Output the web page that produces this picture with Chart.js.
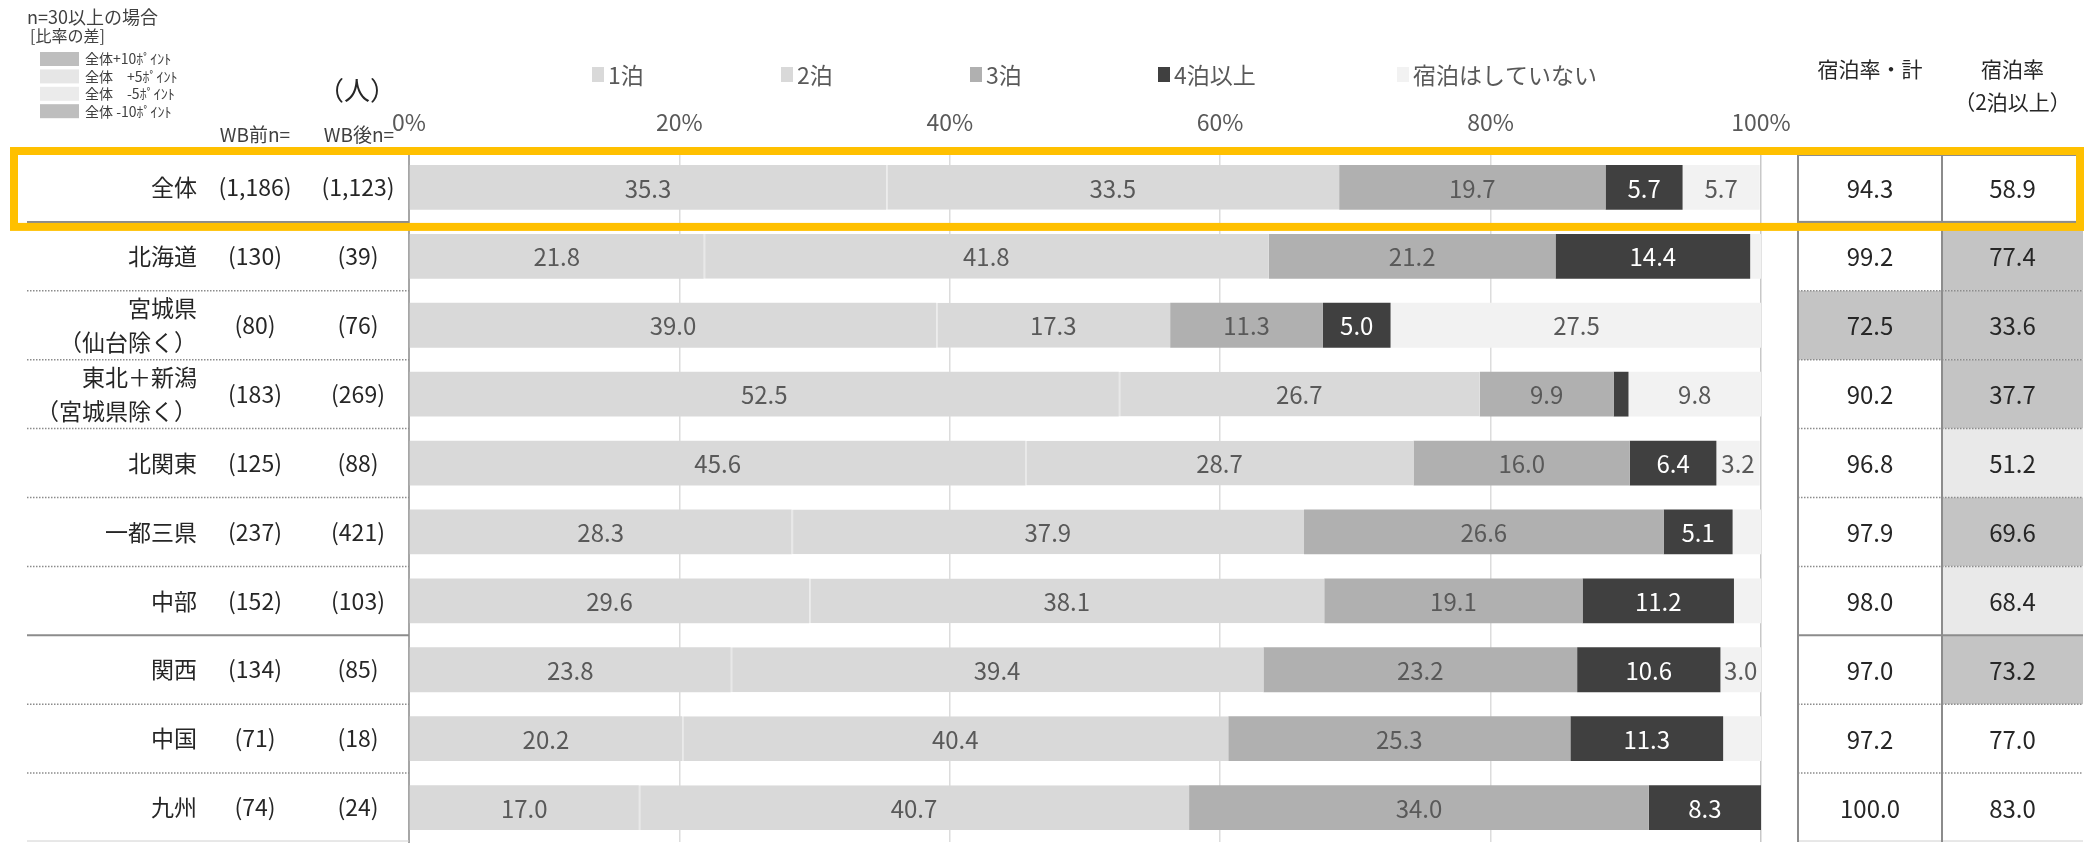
<!DOCTYPE html>
<html lang="ja">
<head>
<meta charset="utf-8">
<title>宿泊数（地域別）</title>
<script src="https://cdn.jsdelivr.net/npm/chart.js@4.4.1/dist/chart.umd.min.js"></script>
<style>
  html, body { margin: 0; padding: 0; background: #fff; }
</style>
</head>
<body>
<canvas id="stayChart" width="2086" height="844"></canvas>
<script>
// Regions and sample sizes
const regions = ['全体', '北海道', ['宮城県', '（仙台除く）'], ['東北＋新潟', '（宮城県除く）'], '北関東', '一都三県', '中部', '関西', '中国', '九州'];
const nBefore = [1186, 130, 80, 183, 125, 237, 152, 134, 71, 74];
const nAfter = [1123, 39, 76, 269, 88, 421, 103, 85, 18, 24];

// Share of nights stayed (%)
const seriesNames = ['1泊', '2泊', '3泊', '4泊以上', '宿泊はしていない'];
const oneNight = [35.3, 21.8, 39.0, 52.5, 45.6, 28.3, 29.6, 23.8, 20.2, 17.0];
const twoNights = [33.5, 41.8, 17.3, 26.7, 28.7, 37.9, 38.1, 39.4, 40.4, 40.7];
const threeNights = [19.7, 21.2, 11.3, 9.9, 16.0, 26.6, 19.1, 23.2, 25.3, 34.0];
const fourPlus = [5.7, 14.4, 5.0, 1.1, 6.4, 5.1, 11.2, 10.6, 11.3, 8.3];
const noStay = [5.7, 0.8, 27.5, 9.8, 3.2, 2.1, 2.0, 3.0, 2.8, 0.0];

// Summary columns on the right
const stayTotal = [94.3, 99.2, 72.5, 90.2, 96.8, 97.9, 98.0, 97.0, 97.2, 100.0];
const stayTwoPlus = [58.9, 77.4, 33.6, 37.7, 51.2, 69.6, 68.4, 73.2, 77.0, 83.0];

const tickLabels = ['0%', '20%', '40%', '60%', '80%', '100%'];

const FONT = '"Noto Sans CJK JP", "Noto Sans", sans-serif';
const font = size => size + 'px ' + FONT;

const barColors = ['#d9d9d9', '#d9d9d9', '#b0b0b0', '#404040', '#f2f2f2'];
const labelColors = ['#595959', '#595959', '#595959', '#ffffff', '#595959'];

// highlight when n>=30 and the gap to 全体 is 5pt / 10pt or more
function shadeFor(values, i) {
  if (i === 0 || nAfter[i] < 30) return null;
  const d = Math.abs(values[i] - values[0]);
  if (d >= 10) return '#c4c4c4';
  if (d >= 5) return '#e9e9e9';
  return null;
}

function hLine(ctx, x1, x2, y, color, width, dash) {
  ctx.save();
  ctx.strokeStyle = color;
  ctx.lineWidth = width;
  ctx.setLineDash(dash || []);
  ctx.beginPath();
  ctx.moveTo(x1, y);
  ctx.lineTo(x2, y);
  ctx.stroke();
  ctx.restore();
}

function text(ctx, str, x, y, size, color, align) {
  ctx.font = font(size);
  ctx.fillStyle = color;
  ctx.textAlign = align || 'center';
  ctx.textBaseline = 'middle';
  ctx.fillText(str, x, y);
}

const tablePlugin = {
  id: 'tablePlugin',
  afterDatasetsDraw(chart) {
    const ctx = chart.ctx;
    // values inside the bar segments
    chart.data.datasets.forEach((ds, di) => {
      const meta = chart.getDatasetMeta(di);
      meta.data.forEach((bar, j) => {
        const v = ds.data[j];
        if (v < 3) return;
        text(ctx, v.toFixed(1), (bar.x + bar.base) / 2, bar.y + 1, 24, labelColors[di]);
      });
    });
  },
  afterDraw(chart) {
    const ctx = chart.ctx;
    const y = chart.scales.y;
    const rowY = i => y.getPixelForValue(i);
    const edge = k => k === 0 ? y.top : (k === regions.length ? y.bottom : (rowY(k - 1) + rowY(k)) / 2);
    const left = 27, axisX = chart.chartArea.left;
    const c1 = 1798, c2 = 1942, c3 = 2083;
    const lineGray = '#8c8c8c';

    ctx.save();

    // legend for the stacked series
    const legendX = [592, 781, 970, 1158, 1397];
    chart.data.datasets.forEach((ds, i) => {
      ctx.fillStyle = ds.backgroundColor;
      ctx.fillRect(legendX[i], 67, 12, 15);
      text(ctx, ds.label, legendX[i] + 16, 75, 23, '#595959', 'left');
    });

    // key for the shaded cells
    text(ctx, 'n=30以上の場合', 27, 17, 18, '#404040', 'left');
    text(ctx, '[比率の差]', 30, 36, 16, '#404040', 'left');
    const keys = [['全体+10ﾎﾟｲﾝﾄ', '#bebebe'], ['全体　+5ﾎﾟｲﾝﾄ', '#e6e6e6'], ['全体　-5ﾎﾟｲﾝﾄ', '#ebebeb'], ['全体 -10ﾎﾟｲﾝﾄ', '#bebebe']];
    keys.forEach(([label, color], i) => {
      const ky = 59 + i * 17.4;
      ctx.fillStyle = color;
      ctx.fillRect(40, ky - 7, 39, 14);
      text(ctx, label, 85, ky, 14, '#404040', 'left');
    });

    // column headers
    text(ctx, '（人）', 357, 90, 26, '#262626');
    text(ctx, 'WB前n=', 255, 135, 19, '#404040');
    text(ctx, 'WB後n=', 359, 135, 19, '#404040');
    text(ctx, '宿泊率・計', (c1 + c2) / 2, 69, 21, '#262626');
    text(ctx, '宿泊率', (c2 + c3) / 2, 69, 21, '#262626');
    text(ctx, '（2泊以上）', (c2 + c3) / 2, 102, 21, '#262626');

    // shaded cells
    regions.forEach((r, i) => {
      [[stayTotal, c1, c2], [stayTwoPlus, c2, c3]].forEach(([vals, x1, x2]) => {
        const s = shadeFor(vals, i);
        if (!s) return;
        ctx.fillStyle = s;
        ctx.fillRect(x1, edge(i), x2 - x1, edge(i + 1) - edge(i));
      });
    });

    // row separators
    for (let k = 1; k <= regions.length; k++) {
      const yy = edge(k);
      if (k === regions.length) {
        hLine(ctx, left, axisX, yy - 1, '#d0d0d0', 1);
        hLine(ctx, c1, c3, yy - 1, '#d0d0d0', 1);
      } else if (k === 1 || k === 7) {
        hLine(ctx, left, axisX, yy, lineGray, 2);
        hLine(ctx, c1, c3, yy, lineGray, 2);
      } else {
        hLine(ctx, left, axisX, yy, lineGray, 1.5, [1.5, 1.5]);
        hLine(ctx, c1, c3, yy, lineGray, 1.5, [1.5, 1.5]);
      }
    }

    // table verticals and the 全体 cell box
    ctx.strokeStyle = lineGray;
    ctx.lineWidth = 2;
    ctx.beginPath();
    ctx.moveTo(c1, y.top + 2); ctx.lineTo(c1, y.bottom);
    ctx.moveTo(c2, y.top + 2); ctx.lineTo(c2, y.bottom);
    ctx.stroke();
    ctx.strokeRect(c1, y.top + 2, c3 - c1, edge(1) - y.top - 2);

    // region n and summary values
    regions.forEach((r, i) => {
      const cy = rowY(i);
      text(ctx, '(' + nBefore[i].toLocaleString('en-US') + ')', 255, cy, 23, '#262626');
      text(ctx, '(' + nAfter[i].toLocaleString('en-US') + ')', 358, cy, 23, '#262626');
      text(ctx, stayTotal[i].toFixed(1), (c1 + c2) / 2, cy + 1, 24, '#262626');
      text(ctx, stayTwoPlus[i].toFixed(1), (c2 + c3) / 2, cy + 1, 24, '#262626');
    });

    // highlight frame around 全体
    ctx.strokeStyle = '#ffc000';
    ctx.lineWidth = 8;
    ctx.strokeRect(14, y.top - 2, 2066, edge(1) - y.top + 7);

    ctx.restore();
  }
};

const seriesData = [oneNight, twoNights, threeNights, fourPlus, noStay];

new Chart(document.getElementById('stayChart'), {
  type: 'bar',
  data: {
    labels: regions,
    datasets: seriesNames.map((name, i) => ({
      label: name,
      data: seriesData[i],
      backgroundColor: barColors[i],
      borderColor: '#e8e8e8',
      borderWidth: i === 1 ? { left: 1.5, top: 0, right: 0, bottom: 0 } : 0,
      borderSkipped: false,
      categoryPercentage: 1,
      barPercentage: 0.65
    }))
  },
  options: {
    indexAxis: 'y',
    responsive: false,
    animation: false,
    layout: { padding: { left: 0, right: 325, top: 0, bottom: 2 } },
    plugins: {
      legend: { display: false },
      tooltip: { enabled: false }
    },
    scales: {
      x: {
        position: 'top',
        stacked: true,
        min: 0,
        max: 100,
        ticks: {
          stepSize: 20,
          padding: 17,
          color: '#595959',
          font: { family: FONT, size: 23 },
          callback: (v, i) => tickLabels[i]
        },
        grid: {
          color: ctx => ctx.tick.value === 100 ? '#c8c8c8' : '#dcdcdc',
          lineWidth: 1.5,
          drawTicks: false
        },
        border: { display: false },
        afterFit: scale => {
          scale.height = 153;
          scale.paddingLeft = 0;
          scale.paddingRight = 0;
        }
      },
      y: {
        stacked: true,
        ticks: {
          autoSkip: false,
          padding: 212,
          color: '#262626',
          font: { family: FONT, size: 23, lineHeight: 1.45 }
        },
        grid: { display: false, drawTicks: false },
        border: { display: true, color: '#a6a6a6', width: 2 },
        afterFit: scale => {
          // label column sits well left of the axis; keep it from padding the chart area
          scale.width = 409;
          scale.paddingTop = 0;
          scale.paddingBottom = 0;
        }
      }
    }
  },
  plugins: [tablePlugin]
});
</script>
</body>
</html>
